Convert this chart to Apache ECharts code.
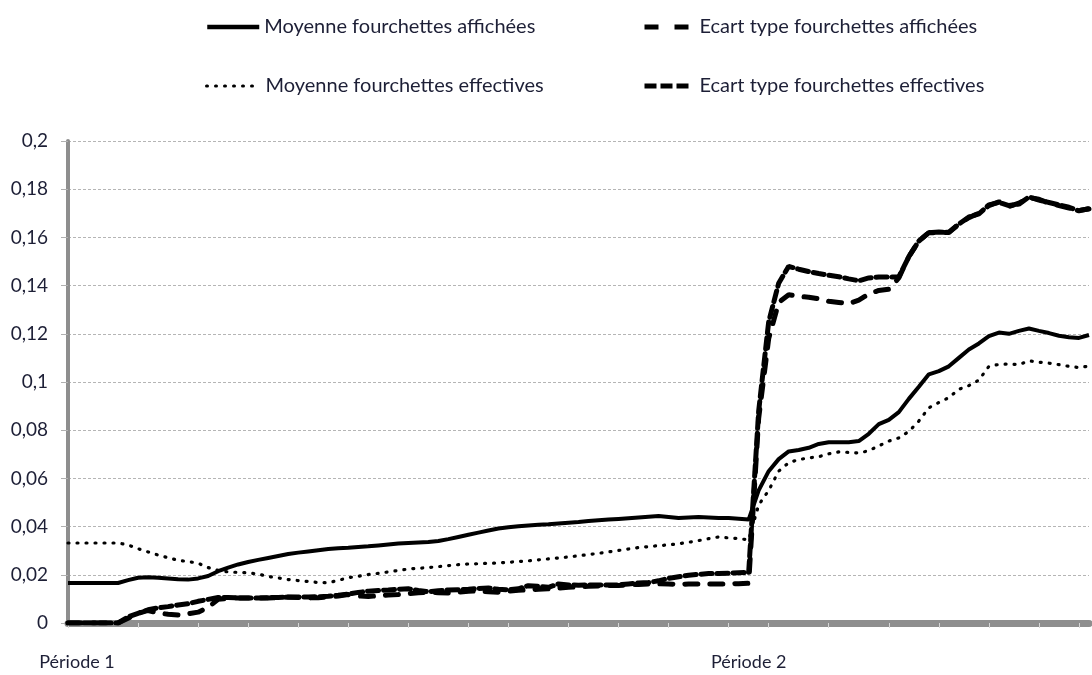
<!DOCTYPE html>
<html>
<head>
<meta charset="utf-8">
<script src="https://cdn.jsdelivr.net/npm/echarts@6/dist/echarts.min.js"></script>
<style>
html,body{margin:0;padding:0;background:#fff;}
#chart{width:1092px;height:675px;}
</style>
</head>
<body>
<div id="chart"></div>
<script>
// Period labels placed on the category axis (index -> label)
const periodLabels = { 0: 'Période 1', 68: 'Période 2' };
const yTickValues = [0, 0.02, 0.04, 0.06, 0.08, 0.1, 0.12, 0.14, 0.16, 0.18, 0.2];

const seriesNames = [
  'Moyenne fourchettes affichées',
  'Ecart type fourchettes affichées',
  'Moyenne fourchettes effectives',
  'Ecart type fourchettes effectives'
];

const moyenneAffichees = [
  0.0166,0.0166,0.0166,0.0166,0.0166,0.0166,0.0178,0.0188,0.019,0.0188,
  0.0185,0.0182,0.018,0.0185,0.0195,0.0215,0.023,0.0243,0.0253,0.0262,
  0.027,0.0278,0.0286,0.0292,0.0297,0.0302,0.0307,0.031,0.0312,0.0315,
  0.0318,0.0322,0.0326,0.033,0.0332,0.0334,0.0336,0.034,0.0348,0.0357,
  0.0366,0.0375,0.0384,0.0392,0.0397,0.0401,0.0405,0.0408,0.041,0.0413,
  0.0416,0.0419,0.0423,0.0426,0.0429,0.0432,0.0435,0.0438,0.0441,0.0444,
  0.044,0.0436,0.0438,0.044,0.0438,0.0436,0.0436,0.0433,0.0429,
  0.055,0.063,0.068,0.0712,0.0718,0.0727,0.0743,0.075,0.075,0.075,
  0.0755,0.0785,0.0825,0.0843,0.0875,0.093,0.098,0.1032,0.1045,0.1065,
  0.11,0.1135,0.116,0.119,0.1205,0.12,0.1212,0.1222,0.1212,0.1203,
  0.1192,0.1186,0.1183,0.1195
];

const moyenneEffectives = [
  0.0332,0.0332,0.0332,0.0332,0.0332,0.0332,0.0324,0.0308,0.0295,0.0282,
  0.0271,0.026,0.0255,0.0248,0.023,0.0218,0.0212,0.021,0.0208,0.0203,
  0.0193,0.0187,0.018,0.0176,0.0172,0.0168,0.0167,0.0177,0.0188,0.0194,
  0.0201,0.0206,0.0212,0.0218,0.0224,0.0227,0.023,0.0234,0.0238,0.0242,
  0.0245,0.0246,0.0248,0.0249,0.0252,0.0255,0.0258,0.0262,0.0266,0.027,
  0.0274,0.0279,0.0284,0.0289,0.0295,0.0301,0.0307,0.0313,0.0317,0.0321,
  0.0324,0.0329,0.0335,0.0342,0.035,0.0357,0.0353,0.035,0.0345,
  0.049,0.055,0.063,0.0665,0.0678,0.0685,0.069,0.0702,0.071,0.0708,
  0.0705,0.0715,0.0735,0.0755,0.0768,0.0795,0.0838,0.0893,0.0915,0.0935,
  0.097,0.0985,0.1008,0.1065,0.1073,0.1075,0.1072,0.1088,0.1082,0.1078,
  0.1072,0.1065,0.106,0.1066
];

const ecartEffectives = [
  0,0,0,0,0,0,0.0025,0.004,0.0055,0.0063,
  0.0068,0.0075,0.008,0.009,0.0098,0.0106,0.0106,0.0104,0.0104,0.0104,
  0.0105,0.0106,0.0108,0.0108,0.0108,0.0109,0.0111,0.0115,0.012,0.0127,
  0.0132,0.0135,0.0137,0.014,0.0142,0.0135,0.013,0.0134,0.0137,0.0138,
  0.014,0.0143,0.0145,0.014,0.0138,0.0142,0.0155,0.0152,0.0148,0.0162,
  0.0158,0.0157,0.0158,0.0158,0.0158,0.0158,0.0162,0.0166,0.0168,0.0175,
  0.0185,0.0192,0.0198,0.0202,0.0205,0.0205,0.0207,0.0209,0.021,
  0.088,0.125,0.141,0.148,0.1468,0.1458,0.145,0.1443,0.1437,0.1428,
  0.142,0.1432,0.1436,0.1436,0.1436,0.152,0.1585,0.162,0.1622,0.162,
  0.1655,0.1685,0.1698,0.1735,0.1745,0.1732,0.1738,0.1768,0.1755,0.1745,
  0.1735,0.1725,0.171,0.172
];

const ecartAffichees = [
  0,0,0,0,0,0,0.002,0.004,0.0052,0.0042,
  0.0036,0.0033,0.0038,0.0045,0.0065,0.0098,0.0103,0.0104,0.0104,0.0104,
  0.0104,0.0105,0.0107,0.0106,0.0104,0.0105,0.0108,0.0112,0.0118,0.0112,
  0.011,0.0113,0.0116,0.0118,0.0122,0.0125,0.0129,0.0126,0.0124,0.0128,
  0.0132,0.0133,0.013,0.0128,0.0132,0.0136,0.0138,0.014,0.0142,0.0145,
  0.0148,0.015,0.0152,0.0154,0.0156,0.0156,0.0158,0.016,0.0162,0.0163,
  0.0162,0.016,0.0162,0.0162,0.0162,0.0162,0.0162,0.0163,0.0165,
  0.085,0.118,0.133,0.1362,0.1355,0.1352,0.1345,0.1335,0.133,0.1325,
  0.134,0.1365,0.138,0.1385,0.1432,0.152,0.1585,0.162,0.1618,0.1622,
  0.1655,0.1682,0.17,0.1732,0.1748,0.1728,0.1742,0.1765,0.1758,0.1742,
  0.1732,0.1722,0.1712,0.1718
];

const categories = moyenneAffichees.map((_, i) => String(i));
const xTickIdx = [0, 7, 13, 18, 23, 28, 34, 40, 44, 50, 55, 60, 66, 70, 76, 82, 87, 92, 97, 101];

const FONT = 'Lato, "Open Sans", sans-serif';
const TXT = '#1d1f36';

const chart = echarts.init(document.getElementById('chart'), null, { renderer: 'canvas' });

function legendAt(name, left, top, w, lineStyle, textPad) {
  return {
    data: [name], left: left, top: top, itemWidth: w, itemHeight: 14, padding: 0,
    itemStyle: { opacity: 0, color: 'rgba(0,0,0,0)', borderWidth: 0 },
    lineStyle: lineStyle,
    textStyle: { fontFamily: FONT, fontSize: 20, color: TXT, padding: [0, 0, 0, textPad] },
    selectedMode: false
  };
}

chart.setOption({
  animation: false,
  backgroundColor: '#fff',
  legend: [
    legendAt(seriesNames[0], 205, 17, 52, { width: 4.5, type: 'solid', color: '#000' }, 0),
    legendAt(seriesNames[1], 642, 17, 44, { width: 5, type: [14, 16], cap: 'butt', color: '#000' }, 6),
    legendAt(seriesNames[2], 205, 76, 54, { width: 3, type: [1, 8], cap: 'round', color: '#000' }, 0),
    legendAt(seriesNames[3], 642, 76, 44, { width: 5, type: [12, 4], cap: 'butt', color: '#000' }, 6)
  ],
  grid: { left: 68, right: 2, top: 141, bottom: 52, containLabel: false },
  xAxis: {
    type: 'category', data: categories, boundaryGap: false, offset: 4,
    axisLine: { show: true, lineStyle: { color: '#8e8e8e', width: 7 } },
    axisTick: { show: true, inside: false, length: 5, interval: (i) => xTickIdx.indexOf(i) >= 0,
      lineStyle: { color: '#d6d6d6', width: 1 } },
    axisLabel: { interval: 0, margin: 26, fontFamily: FONT, fontSize: 18, color: TXT,
      formatter: (v, i) => periodLabels[i] ? (i === 0 ? '{first|' + periodLabels[i] + '}' : periodLabels[i]) : '',
      rich: { first: { fontFamily: FONT, fontSize: 18, color: TXT, padding: [0, 0, 0, 18] } } },
    splitLine: { show: false }
  },
  yAxis: {
    type: 'value', min: 0, max: 0.2, interval: 0.02,
    axisLine: { show: true, lineStyle: { color: '#8e8e8e', width: 4 } },
    axisTick: { show: true, length: 7, lineStyle: { color: '#b0b0b0', width: 1 } },
    axisLabel: { margin: 20, fontFamily: FONT, fontSize: 19, color: TXT,
      formatter: (v) => (Math.round(v * 100) / 100).toString().replace('.', ',') },
    splitLine: { show: true, lineStyle: { color: '#b5b5b5', width: 1, type: [3, 2] } }
  },
  series: [
    { name: seriesNames[0], type: 'line', data: moyenneAffichees, symbol: 'none', z: 4,
      lineStyle: { color: '#000', width: 4, type: 'solid' }, itemStyle: { color: '#000' } },
    { name: seriesNames[1], type: 'line', data: ecartAffichees, symbol: 'none', z: 3,
      lineStyle: { color: '#000', width: 5, type: [13, 12], cap: 'round' }, itemStyle: { color: '#000' } },
    { name: seriesNames[2], type: 'line', data: moyenneEffectives, symbol: 'none', z: 2,
      lineStyle: { color: '#000', width: 3.2, type: [1, 8], cap: 'round' }, itemStyle: { color: '#000' } },
    { name: seriesNames[3], type: 'line', data: ecartEffectives, symbol: 'none', z: 3,
      lineStyle: { color: '#000', width: 5, type: [11, 5], cap: 'round' }, itemStyle: { color: '#000' } }
  ]
});
</script>
</body>
</html>
